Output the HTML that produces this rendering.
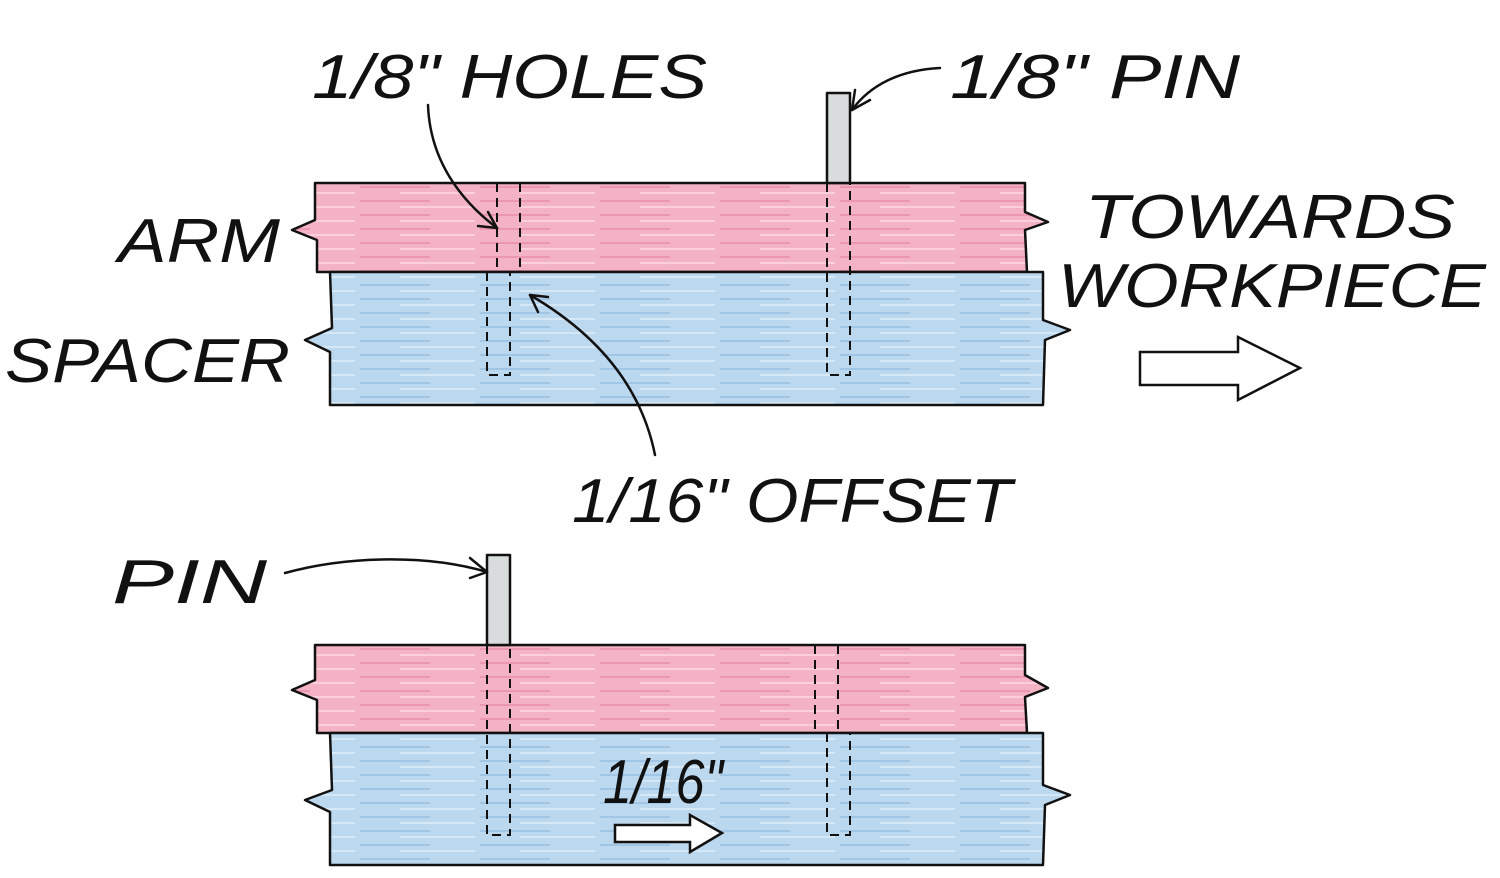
<!DOCTYPE html>
<html><head><meta charset="utf-8"><style>
html,body{margin:0;padding:0;background:#fff;}
svg{display:block}
text{font-family:"Liberation Sans",sans-serif;font-style:italic;fill:#111;}
</style></head><body>
<svg width="1500" height="878" viewBox="0 0 1500 878" xmlns="http://www.w3.org/2000/svg">
<defs>
<pattern id="gp" width="120" height="14" patternUnits="userSpaceOnUse">
<rect width="120" height="14" fill="#f4b3c5"/>
<line x1="0" y1="5" x2="70" y2="5" stroke="#e88ea8" stroke-width="1.5"/>
<line x1="40" y1="11" x2="115" y2="11" stroke="#fbd0dc" stroke-width="2"/>
</pattern>
<pattern id="gb" width="120" height="14" patternUnits="userSpaceOnUse">
<rect width="120" height="14" fill="#bcd8ef"/>
<line x1="0" y1="5" x2="70" y2="5" stroke="#98c0e2" stroke-width="1.5"/>
<line x1="40" y1="11" x2="115" y2="11" stroke="#d6e8f6" stroke-width="2"/>
</pattern>
</defs>
<g stroke="#111" stroke-width="2.5" stroke-linejoin="round">
<!-- top arm -->
<path d="M315,183 L1025,183 L1025,212 L1048,222 L1025,230 L1027,272 L317,272 L317,240 L292,230 L315,220 Z" fill="url(#gp)"/>
<!-- top spacer -->
<path d="M330,272 L1043,272 L1043,320 L1070,330 L1045,340 L1043,405 L330,405 L330,352 L305,340 L332,328 Z" fill="url(#gb)"/>
<!-- bottom arm -->
<path d="M315,645 L1025,645 L1025,675 L1048,688 L1025,697 L1027,733 L317,733 L317,700 L292,690 L315,680 Z" fill="url(#gp)"/>
<!-- bottom spacer -->
<path d="M330,733 L1043,733 L1043,785 L1070,795 L1045,805 L1043,865 L330,865 L330,812 L305,800 L332,790 Z" fill="url(#gb)"/>
<!-- pins -->
<rect x="827" y="93" width="23" height="90" fill="#d8dcdc"/>
<rect x="487" y="555" width="23" height="90" fill="#d8dcdc"/>
</g>
<g stroke="#111" stroke-width="2" fill="none" stroke-dasharray="9,6">
<path d="M497,183 L497,272 M520,183 L520,272 M497,272 L520,272"/>
<path d="M487,272 L487,375 L510,375 L510,272"/>
<path d="M827,183 L827,375 L850,375 L850,183"/>
<path d="M487,645 L487,835 L510,835 L510,645"/>
<path d="M815,645 L815,733 M838,645 L838,733"/>
<path d="M827,733 L827,835 L850,835 L850,733"/>
</g>
<g stroke="#111" stroke-width="2.5" fill="none" stroke-linecap="round">
<path d="M428,105 C430,160 460,200 497,228"/>
<path d="M497,228 L478,226 M497,228 L488,212"/>
<path d="M940,68 C900,70 870,85 852,110"/>
<path d="M852,110 L855,90 M852,110 L870,100"/>
<path d="M655,455 C640,380 590,330 530,295"/>
<path d="M530,295 L548,297 M530,295 L538,312"/>
<path d="M285,573 C350,555 430,555 487,572"/>
<path d="M487,572 L470,558 M487,572 L470,578"/>
<path d="M1140,352 L1238,352 L1238,337 L1300,368 L1238,400 L1238,385 L1140,385 Z" fill="#fff"/>
<path d="M615,825 L690,825 L690,815 L722,833 L690,852 L690,842 L615,842 Z" fill="#fff"/>
</g>
<g font-size="62">
<text x="312" y="98" textLength="395" lengthAdjust="spacingAndGlyphs">1/8" HOLES</text>
<text x="950" y="98" textLength="290" lengthAdjust="spacingAndGlyphs">1/8" PIN</text>
<text x="118" y="262" textLength="162" lengthAdjust="spacingAndGlyphs">ARM</text>
<text x="5" y="382" textLength="285" lengthAdjust="spacingAndGlyphs">SPACER</text>
<text x="1085" y="238" textLength="370" lengthAdjust="spacingAndGlyphs">TOWARDS</text>
<text x="1058" y="307" textLength="428" lengthAdjust="spacingAndGlyphs">WORKPIECE</text>
<text x="572" y="522" textLength="440" lengthAdjust="spacingAndGlyphs">1/16" OFFSET</text>
<text x="112" y="603" textLength="155" lengthAdjust="spacingAndGlyphs">PIN</text>
<text x="603" y="803" textLength="120" lengthAdjust="spacingAndGlyphs">1/16"</text>
</g>
</svg>
</body></html>
